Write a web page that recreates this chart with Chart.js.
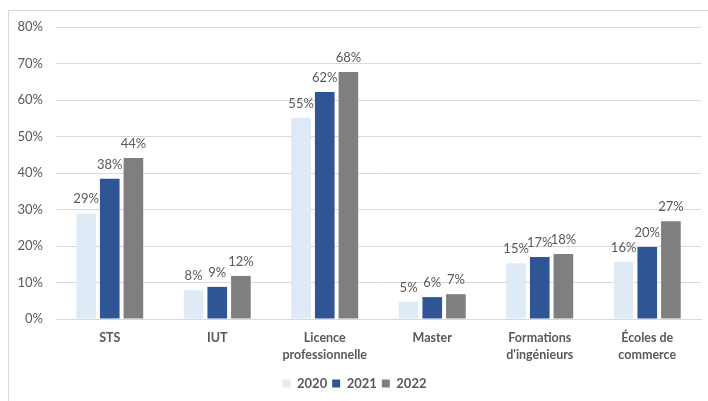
<!DOCTYPE html>
<html>
<head>
<meta charset="utf-8">
<script src="https://cdn.jsdelivr.net/npm/chart.js@4.4.0/dist/chart.umd.min.js"></script>
<style>
  html, body { margin: 0; padding: 0; background: #ffffff; }
  #wrap { position: relative; width: 708px; height: 401px; overflow: hidden; }
  #frame { position: absolute; left: 8px; top: 10px; width: 720px; height: 420px; border: 1px solid #D9D9D9; box-sizing: border-box; }
  #c { position: absolute; left: 0; top: 0; }
</style>
</head>
<body>
<div id="wrap">
  <div id="frame"></div>
  <canvas id="c" width="708" height="401"></canvas>
</div>
<script>
const categories = ["STS", "IUT", ["Licence", "professionnelle"], "Master", ["Formations", "d'ingénieurs"], ["Écoles de", "commerce"]];
const seriesNames = ["2020", "2021", "2022"];
const values2020 = [29.0, 7.9, 55.1, 4.7, 15.3, 15.6];
const values2021 = [38.4, 8.8, 62.2, 6.0, 17.0, 19.7];
const values2022 = [44.1, 11.8, 67.7, 6.8, 17.8, 26.8];
const yTicks = [0, 10, 20, 30, 40, 50, 60, 70, 80];
const colors = ["#DEEBF7", "#2F5597", "#7F7F7F"];

const FONT = "Lato, 'Liberation Sans', sans-serif";
const TEXT = "#595959";

const dataLabels = {
  id: "dataLabels",
  afterDatasetsDraw(chart) {
    const ctx = chart.ctx;
    ctx.save();
    ctx.font = "13px " + FONT;
    ctx.fillStyle = TEXT;
    ctx.textAlign = "center";
    ctx.textBaseline = "middle";
    chart.data.datasets.forEach((ds, i) => {
      const meta = chart.getDatasetMeta(i);
      meta.data.forEach((bar, j) => {
        ctx.fillText(Math.round(ds.data[j]) + "%", bar.x, bar.y - 14);
      });
    });
    ctx.restore();
  }
};

new Chart(document.getElementById("c"), {
  type: "bar",
  data: {
    labels: categories,
    datasets: [
      { label: seriesNames[0], data: values2020, backgroundColor: colors[0] },
      { label: seriesNames[1], data: values2021, backgroundColor: colors[1] },
      { label: seriesNames[2], data: values2022, backgroundColor: colors[2] }
    ]
  },
  options: {
    responsive: false,
    animation: false,
    devicePixelRatio: 1,
    layout: { padding: { left: 8, right: 7, top: 27, bottom: 1 } },
    datasets: { bar: { categoryPercentage: 0.66, barPercentage: 0.83 } },
    plugins: {
      legend: {
        position: "bottom",
        labels: {
          boxWidth: 8, boxHeight: 8, padding: 5,
          color: TEXT,
          font: { family: FONT, size: 13, weight: "bold" }
        }
      },
      tooltip: { enabled: false }
    },
    scales: {
      x: {
        grid: { display: false, drawTicks: false },
        border: { display: true, color: "#D9D9D9" },
        ticks: {
          color: TEXT, padding: 11, maxRotation: 0, autoSkip: false,
          font: { family: FONT, size: 12.5, weight: "bold", lineHeight: 1.35 }
        },
        afterFit(scale) { scale.height = 53; }
      },
      y: {
        min: 0, max: 80,
        afterBuildTicks(scale) { scale.ticks = yTicks.map(v => ({ value: v })); },
        grid: { color: "#D9D9D9", drawTicks: false },
        border: { display: false },
        ticks: {
          color: TEXT, padding: 13,
          font: { family: FONT, size: 13 },
          callback: v => v + "%"
        },
        afterFit(scale) { scale.width = 48; }
      }
    }
  },
  plugins: [dataLabels]
});
</script>
</body>
</html>
